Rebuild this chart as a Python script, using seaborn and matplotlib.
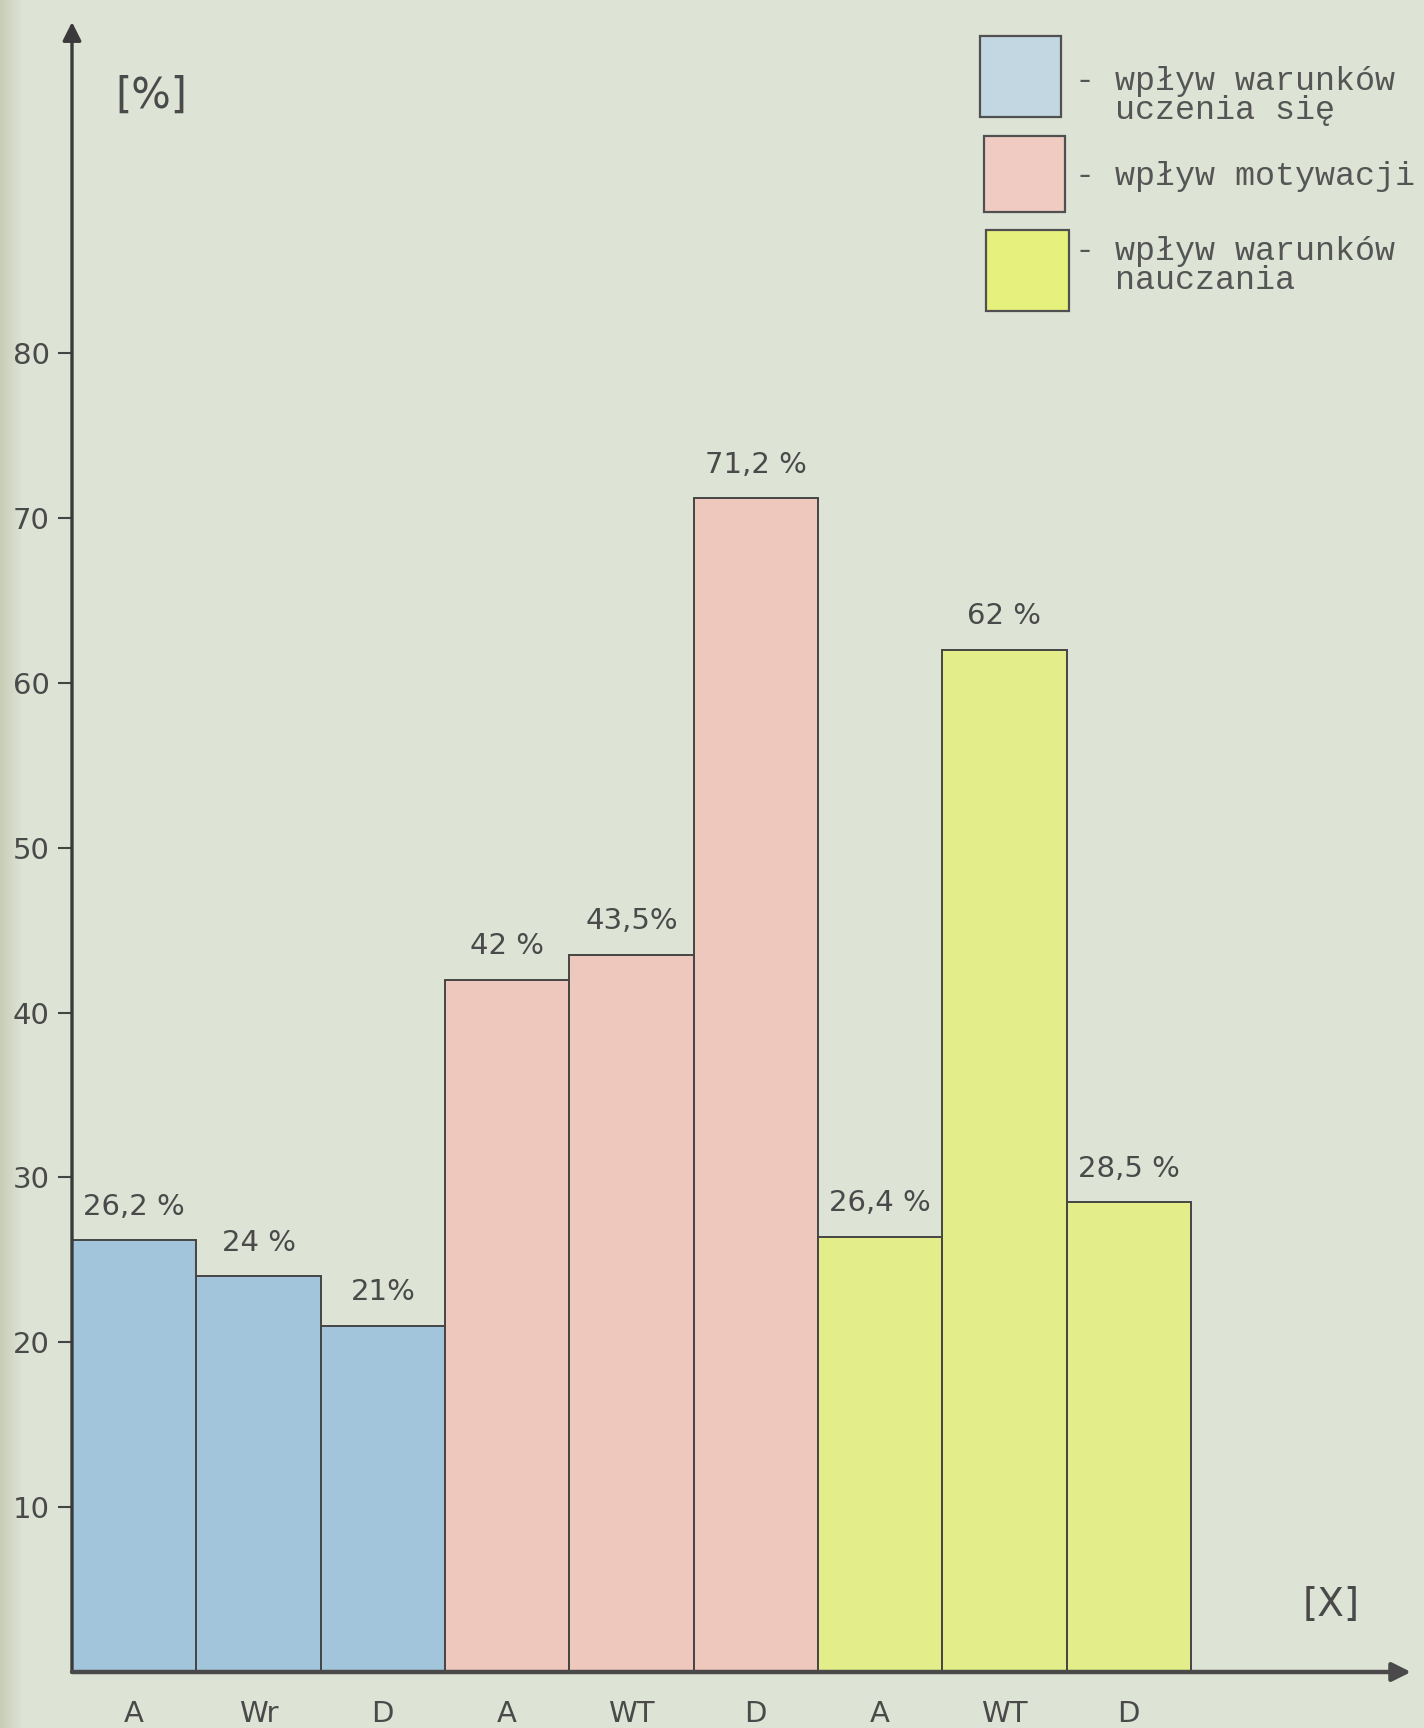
import numpy as np
import pandas as pd
import matplotlib
matplotlib.use("Agg")
import matplotlib.pyplot as plt
from matplotlib.patches import Rectangle
from matplotlib import font_manager
import seaborn as sns

# =========================
# DATA
# =========================
categories = ["A", "Wr", "D", "A", "WT", "D", "A", "WT", "D"]
values = [26.2, 24, 21, 42, 43.5, 71.2, 26.4, 62, 28.5]
value_labels = ["26,2 %", "24 %", "21%", "42 %", "43,5%", "71,2 %", "26,4 %", "62 %", "28,5 %"]
groups = ["uczenie"] * 3 + ["motywacja"] * 3 + ["nauczanie"] * 3
legend_texts = [
    "- wpływ warunków\n  uczenia się",
    "- wpływ motywacji",
    "- wpływ warunków\n  nauczania",
]
y_ticks = [10, 20, 30, 40, 50, 60, 70, 80]

# =========================
# STYLE
# =========================
sns.set_theme(style="white")

installed = {f.name for f in font_manager.fontManager.ttflist}
hand_font = [f for f in ["Liberation Sans Narrow", "DejaVu Sans"] if f in installed]
type_font = [f for f in ["Liberation Mono", "DejaVu Sans Mono"] if f in installed]
plt.rcParams["font.family"] = hand_font

paper = "#dde3d5"
ink = "#4a4a4a"
palette = {"uczenie": "#a3c5dc", "motywacja": "#efc8bd", "nauczanie": "#e3ee8b"}
legend_colors = ["#c3d7e2", "#efcbc2", "#e6f07c"]

W, H = 1424, 1728
fig = plt.figure(figsize=(W / 100, H / 100), dpi=100, facecolor=paper)

# shadow of the binding at the left edge (drawn first, behind everything)
shade = fig.add_axes([0, 0, 22 / W, 1], zorder=-5)
grad = np.linspace(0, 1, 50).reshape(1, -1)
shade.imshow(grad, aspect="auto", cmap=matplotlib.colors.LinearSegmentedColormap.from_list(
    "edge", ["#c9cdb6", paper]), extent=[0, 1, 0, 1])
shade.set_axis_off()

# axes placement in pixels: x -0.5 -> 72px, y 0 -> 1672px
x0_px, x1_px = 72, 1411
y0_px, y1_px = 1672, 22
ax = fig.add_axes([x0_px / W, 1 - y0_px / H, (x1_px - x0_px) / W, (y0_px - y1_px) / H])
ax.set_facecolor("none")

df = pd.DataFrame({
    "id": [f"{c}_{i}" for i, c in enumerate(categories)],
    "value": values,
    "grupa": groups,
})

sns.barplot(
    data=df, x="id", y="value", hue="grupa", palette=palette,
    dodge=False, width=1.0, saturation=1, edgecolor="#454545",
    linewidth=1.4, legend=False, ax=ax
)

xmax = -0.5 + (x1_px - x0_px) / ((1191 - 72) / 9)
ymax = (y0_px - y1_px) / ((1510 - 356) / 70)
ax.set_xlim(-0.5, xmax)
ax.set_ylim(0, ymax)

for s in ax.spines.values():
    s.set_visible(False)

# axes with arrows
ax.annotate("", xy=(-0.5, ymax), xytext=(-0.5, 0), annotation_clip=False,
            arrowprops=dict(arrowstyle="-|>", lw=2.4, color="#3a3a3a",
                            mutation_scale=28, shrinkA=0, shrinkB=0))
ax.annotate("", xy=(xmax, 0), xytext=(-0.5, 0), annotation_clip=False,
            arrowprops=dict(arrowstyle="-|>", lw=3.2, color="#4a4a4a",
                            mutation_scale=28, shrinkA=0, shrinkB=0))

ax.set_yticks(y_ticks)
ax.set_yticklabels([str(t) for t in y_ticks])
ax.tick_params(axis="y", direction="out", length=10, width=1.5, color="#444444",
               pad=6, labelsize=21, labelcolor=ink, left=True)
ax.set_xticks(range(len(categories)))
ax.set_xticklabels(categories)
ax.tick_params(axis="x", length=0, pad=20, labelsize=21, labelcolor=ink)
ax.set_xlabel("")
ax.set_ylabel("")
ax.grid(False)

# value labels above bars
for i, (v, lab) in enumerate(zip(values, value_labels)):
    ax.annotate(lab, xy=(i, v), xytext=(0, 14), textcoords="offset points",
                ha="center", va="bottom", fontsize=21, color=ink)

# axis unit labels
fig.text(151 / W, 1 - 96 / H, "[%]", ha="center", va="center", fontsize=30, color=ink)
fig.text(1331 / W, 1 - 1605 / H, "[X]", ha="center", va="center", fontsize=28, color=ink)

# hand-drawn style legend
boxes = [(980, 36, 81, 81), (984, 136, 81, 76), (986, 230, 83, 81)]
text_pos = [(1075, 96), (1075, 176), (1075, 266)]
for (bx, by, bw, bh), col, txt, (tx, ty) in zip(boxes, legend_colors, legend_texts, text_pos):
    fig.patches.append(Rectangle((bx / W, 1 - (by + bh) / H), bw / W, bh / H,
                                 transform=fig.transFigure, facecolor=col,
                                 edgecolor="#505050", lw=1.6))
    fig.text(tx / W, 1 - ty / H, txt, ha="left", va="center", fontsize=24,
             family=type_font, color="#555555", linespacing=0.9)

fig.savefig("out.png", dpi=100, facecolor=paper)
